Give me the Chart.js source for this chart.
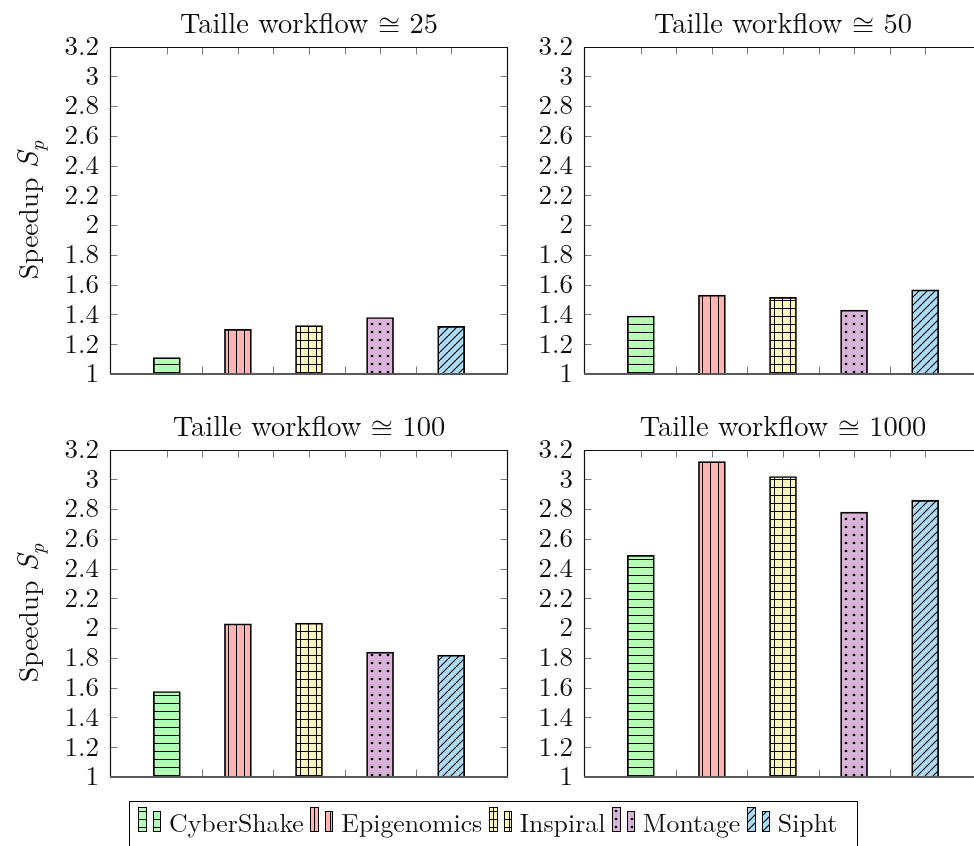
<!DOCTYPE html>
<html>
<head>
<meta charset="utf-8">
<script src="https://cdn.jsdelivr.net/npm/chart.js@4.4.1/dist/chart.umd.min.js"></script>
<style>
  html, body { margin: 0; padding: 0; background: #fff; overflow: hidden; }
  body { width: 974px; height: 846px; position: relative; font-family: "Latin Modern Roman", "Latin Modern Math", "Liberation Serif", serif; color: #111; }
  canvas.panel { position: absolute; }
  .ylab {
    position: absolute; width: 300px; height: 34px; line-height: 34px;
    text-align: center; font-size: 27.5px; white-space: nowrap;
    transform: rotate(-90deg);
  }
  .ylab .ms { font-size: 110%; }
  .ylab .sub { font-size: 75%; position: relative; top: 0.3em; }
  .legend {
    position: absolute; left: 129px; top: 801px; width: 729px; height: 70px;
    border: 1px solid #000; box-sizing: border-box; font-size: 25.8px;
    line-height: 38px; white-space: nowrap; padding-left: 8px;
  }
  .legend canvas { vertical-align: baseline; margin-right: 8px; }
  .legend .item { margin-right: 6.5px; }
</style>
</head>
<body>
<script>
// Speedup per workflow family, one array per workflow size
const workflows = ['CyberShake', 'Epigenomics', 'Inspiral', 'Montage', 'Sipht'];
const panelTitles = ['Taille workflow ≅ 25', 'Taille workflow ≅ 50', 'Taille workflow ≅ 100', 'Taille workflow ≅ 1000'];
const speedup25   = [1.11, 1.30, 1.325, 1.38, 1.32];
const speedup50   = [1.39, 1.53, 1.515, 1.43, 1.565];
const speedup100  = [1.575, 2.03, 2.035, 1.84, 1.82];
const speedup1000 = [2.49, 3.12, 3.02, 2.78, 2.86];
const speedupTicks = [1, 1.2, 1.4, 1.6, 1.8, 2, 2.2, 2.4, 2.6, 2.8, 3, 3.2];
const slotTicks = [1, 1.5, 2, 2.5, 3, 3.5, 4, 4.5, 5];
const fillColours = ['#b3ffb3', '#ffb3b3', '#fff8b8', '#d9b3d9', '#abdcf5'];
const hatchKinds = ['horizontal', 'vertical', 'grid', 'dots', 'northeast'];

const SERIF = '"Latin Modern Roman", "Latin Modern Math", "Liberation Serif", serif';

// Hatched fill: pale colour with a black pattern repeated every 8px
function makePattern(ctx, colour, kind) {
  const s = 8;
  const t = document.createElement('canvas');
  t.width = s; t.height = s;
  const g = t.getContext('2d');
  g.fillStyle = colour;
  g.fillRect(0, 0, s, s);
  g.strokeStyle = '#000';
  g.fillStyle = '#000';
  g.lineWidth = 1;
  g.beginPath();
  if (kind === 'horizontal' || kind === 'grid') { g.moveTo(0, 4.5); g.lineTo(s, 4.5); }
  if (kind === 'vertical' || kind === 'grid') { g.moveTo(4.5, 0); g.lineTo(4.5, s); }
  if (kind === 'northeast') {
    g.lineWidth = 1.1;
    for (const o of [-s, 0, s]) { g.moveTo(o, s); g.lineTo(o + s, 0); }
  }
  g.stroke();
  if (kind === 'dots') { g.beginPath(); g.arc(4, 4, 1.3, 0, 2 * Math.PI); g.fill(); }
  return ctx.createPattern(t, 'repeat');
}

// Inward ticks on all four sides, then the box around the plot area
const framePlugin = {
  id: 'frame',
  beforeDatasetsDraw(chart) {
    const { ctx, chartArea: a, scales: { x, y } } = chart;
    const L = Math.round(a.left) + 0.5, R = Math.round(a.right) - 0.5;
    const T = Math.round(a.top) + 0.5, B = Math.round(a.bottom) - 0.5;
    ctx.save();
    ctx.strokeStyle = '#7a7a7a';
    ctx.lineWidth = 1;
    ctx.beginPath();
    speedupTicks.forEach(v => {
      const py = Math.round(y.getPixelForValue(v)) + 0.5;
      ctx.moveTo(L, py); ctx.lineTo(L + 7, py);
      ctx.moveTo(R, py); ctx.lineTo(R - 7, py);
    });
    slotTicks.forEach(v => {
      const px = Math.round(x.getPixelForValue(v)) + 0.5;
      ctx.moveTo(px, T); ctx.lineTo(px, T + 7);
      ctx.moveTo(px, B); ctx.lineTo(px, B - 7);
    });
    ctx.stroke();
    ctx.restore();
  },
  afterDatasetsDraw(chart) {
    const { ctx, chartArea: a } = chart;
    const L = Math.round(a.left) + 0.5, R = Math.round(a.right) - 0.5;
    const T = Math.round(a.top) + 0.5, B = Math.round(a.bottom);
    ctx.save();
    ctx.strokeStyle = '#111';
    ctx.lineWidth = 1.2;
    ctx.beginPath();
    ctx.moveTo(L, B); ctx.lineTo(L, T); ctx.lineTo(R, T); ctx.lineTo(R, B);
    ctx.stroke();
    ctx.strokeStyle = '#5a5a5a';
    ctx.lineWidth = 2;
    ctx.beginPath();
    ctx.moveTo(L - 0.5, B); ctx.lineTo(R + 0.5, B);
    ctx.stroke();
    ctx.restore();
  }
};

const panels = [
  { values: speedup25,   title: panelTitles[0], left: 0,   top: 0 },
  { values: speedup50,   title: panelTitles[1], left: 474, top: 0 },
  { values: speedup100,  title: panelTitles[2], left: 0,   top: 403 },
  { values: speedup1000, title: panelTitles[3], left: 474, top: 403 }
];

panels.forEach(p => {
  const cv = document.createElement('canvas');
  cv.className = 'panel';
  cv.width = 520; cv.height = 404;
  cv.style.left = p.left + 'px';
  cv.style.top = p.top + 'px';
  document.body.appendChild(cv);
  const ctx = cv.getContext('2d');
  const fills = fillColours.map((c, i) => makePattern(ctx, c, hatchKinds[i]));

  new Chart(cv, {
    type: 'bar',
    data: {
      datasets: [{
        label: 'Speedup',
        data: p.values.map((v, i) => ({ x: i + 1, y: v })),
        backgroundColor: fills,
        borderColor: '#000',
        borderWidth: 1.7,
        barThickness: 27
      }]
    },
    options: {
      responsive: false,
      animation: false,
      devicePixelRatio: 1,
      layout: { padding: { left: 0, right: 12, top: 0, bottom: 30 } },
      scales: {
        x: { type: 'linear', display: false, min: 0.6, max: 5.4 },
        y: {
          min: 1, max: 3.2,
          afterBuildTicks: s => { s.ticks = speedupTicks.map(v => ({ value: v })); },
          afterFit: s => { s.width = 110; },
          grid: { display: false, drawTicks: false },
          border: { display: false },
          ticks: {
            autoSkip: false,
            padding: 11,
            color: '#111',
            font: { family: SERIF, size: 27 },
            callback: v => String(v)
          }
        }
      },
      plugins: {
        legend: { display: false },
        tooltip: { enabled: false },
        title: {
          display: true,
          text: p.title,
          fullSize: false,
          color: '#111',
          font: { family: SERIF, size: 28.5, weight: 'normal', lineHeight: 1.2 },
          padding: { top: 7.6, bottom: 4.9 }
        }
      }
    },
    plugins: [framePlugin]
  });
});

// Rotated y-axis labels for the left-hand panels
[210, 613].forEach(cy => {
  const d = document.createElement('div');
  d.className = 'ylab';
  d.style.left = (26 - 150) + 'px';
  d.style.top = (cy - 17) + 'px';
  d.innerHTML = 'Speedup <i class="ms">S</i><i class="sub">p</i>';
  document.body.appendChild(d);
});

// Legend: two small hatched bars per workflow, then its name
const legend = document.createElement('div');
legend.className = 'legend';
workflows.forEach((name, i) => {
  const item = document.createElement('span');
  item.className = 'item';
  const ic = document.createElement('canvas');
  ic.width = 23; ic.height = 25;
  const g = ic.getContext('2d');
  const pat = makePattern(g, fillColours[i], hatchKinds[i]);
  g.fillStyle = pat;
  g.strokeStyle = '#000';
  g.lineWidth = 1;
  g.fillRect(0.5, 0.5, 8, 24); g.strokeRect(0.5, 0.5, 8, 24);
  g.fillRect(15.5, 4.5, 7, 20); g.strokeRect(15.5, 4.5, 7, 20);
  item.appendChild(ic);
  item.appendChild(document.createTextNode(name));
  legend.appendChild(item);
});
document.body.appendChild(legend);
</script>
</body>
</html>
